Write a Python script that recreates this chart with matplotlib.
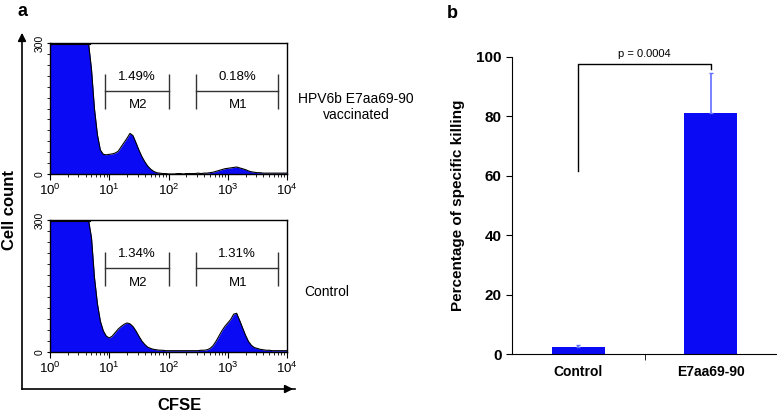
import numpy as np
import matplotlib.pyplot as plt
from matplotlib.ticker import FixedLocator, MultipleLocator

plt.rcParams['font.family'] = ['Liberation Sans', 'DejaVu Sans']
plt.rcParams['mathtext.fontset'] = 'custom'
plt.rcParams['mathtext.rm'] = 'Liberation Sans'
plt.rcParams['mathtext.it'] = 'Liberation Sans'

# CFSE histograms: log10 position of bins and cell counts
log_cfse = np.round(np.arange(0, 4.001, 0.05), 2)
counts_vacc = [300] * 14 + [
    240, 150, 90, 55, 45, 44,
    45, 46, 48, 52, 62, 72, 82, 93, 88, 72, 55, 40, 28, 18, 11, 6, 3, 2, 1, 1,
    0, 0, 0, 1, 1, 0, 1, 1, 1, 1, 2, 1, 2, 2, 3, 4, 6, 8, 10, 12,
    13, 14, 15, 16, 14, 12, 10, 7, 5, 4, 3, 3, 2, 2, 2, 2, 2, 2, 2, 2,
    2]
counts_ctrl = [300] * 14 + [
    260, 170, 110, 70, 48, 36,
    32, 36, 44, 52, 58, 63, 66, 64, 58, 48, 36, 25, 17, 11, 8, 6, 5, 4, 4, 3,
    3, 3, 3, 3, 3, 3, 3, 3, 3, 3, 3, 4, 4, 5, 8, 14, 24, 36, 48, 58,
    66, 74, 86, 88, 72, 55, 38, 24, 15, 10, 8, 6, 5, 4, 4, 3, 3, 3, 3, 3,
    3]
gate_m2 = (10**0.93, 10**2.0)
gate_m1 = (10**2.46, 10**3.85)
pct_vacc = ['1.49%', '0.18%']
pct_ctrl = ['1.34%', '1.31%']
hist_names = ['HPV6b E7aa69-90\nvaccinated', 'Control']

# specific killing bar chart
groups = ['Control', 'E7aa69-90']
killing = [2.5, 81.2]
killing_err = [0.5, 13.3]
p_text = 'p = 0.0004'

blue = '#0a0af5'

fig = plt.figure(figsize=(7.77, 4.17), dpi=100)


def histogram(rect, counts, pcts, name, name_xy):
    ax = fig.add_axes(rect)
    x = 10**log_cfse
    ax.fill_between(x, counts, color=blue, lw=0)
    ax.plot(x, counts, color='black', lw=0.8)
    ax.plot([1, 10**0.66], [299, 299], color='black', lw=3)
    ax.set_xscale('log')
    ax.set_xlim(1, 1e4)
    ax.set_ylim(0, 300)
    ax.set_xticks([1, 10, 100, 1000, 10000])
    ax.set_xticklabels([r'$10^{%d}$' % i for i in range(5)])
    ax.set_yticks([0, 300])
    ax.set_yticklabels(['0', '300'], rotation=90, va='center', fontsize=7.5)
    ax.yaxis.set_minor_locator(MultipleLocator(25))
    ax.tick_params(axis='x', which='major', length=4, labelsize=9.5, pad=2)
    ax.tick_params(axis='x', which='minor', length=2)
    ax.tick_params(axis='y', which='both', length=2, pad=2)
    for spine in ax.spines.values():
        spine.set_linewidth(1.0)
    # gates
    for (x1, x2), pct, lab in zip([gate_m2, gate_m1], pcts, ['M2', 'M1']):
        ax.plot([x1, x2], [190, 190], color='#333333', lw=1)
        ax.vlines([x1, x2], 150, 228, color='#333333', lw=1)
        xm = np.sqrt(x1 * x2)
        ax.text(xm, 222, pct, ha='center', va='center', fontsize=9.5)
        ax.text(xm * 1.05, 157, lab, ha='center', va='center', fontsize=9.5)
    fig.text(name_xy[0] / 777, 1 - name_xy[1] / 417, name, ha='center',
             va='center', fontsize=10)
    return ax


histogram([50 / 777, 1 - 174 / 417, 237 / 777, 131 / 417],
          counts_vacc, pct_vacc, hist_names[0], (356, 107))
histogram([50 / 777, 1 - 352 / 417, 237 / 777, 132 / 417],
          counts_ctrl, pct_ctrl, hist_names[1], (327, 292))

# outer arrows of panel a
fig.add_artist(plt.Line2D([22 / 777, 295 / 777], [1 - 389 / 417] * 2,
                          color='black', lw=1.2))
fig.add_artist(plt.Line2D([22 / 777] * 2, [1 - 389 / 417, 1 - 40 / 417],
                          color='black', lw=1.2))
plt.annotate('', xy=(296, 417 - 389), xytext=(285, 417 - 389),
             xycoords='figure pixels',
             arrowprops=dict(arrowstyle='-|>', color='black', lw=1.2,
                             mutation_scale=12))
plt.annotate('', xy=(22, 417 - 30), xytext=(22, 417 - 42),
             xycoords='figure pixels',
             arrowprops=dict(arrowstyle='-|>', color='black', lw=1.2,
                             mutation_scale=12))
fig.text(10 / 777, 1 - 210 / 417, 'Cell count', rotation=90, ha='center',
         va='center', fontsize=12, fontweight='bold')
fig.text(180 / 777, 1 - 405 / 417, 'CFSE', ha='center', va='center',
         fontsize=12, fontweight='bold')
fig.text(22 / 777, 1 - 12 / 417, 'a', ha='center', va='center',
         fontsize=13, fontweight='bold')
fig.text(452 / 777, 1 - 14 / 417, 'b', ha='center', va='center',
         fontsize=13, fontweight='bold')

# panel b
ax = fig.add_axes([512 / 777, 1 - 354 / 417, 265 / 777, 297 / 417])
xpos = np.arange(len(groups))
ax.bar(xpos, killing, width=0.4, color=blue)
ax.errorbar(xpos, killing, yerr=[[0, 0], killing_err], fmt='none',
            ecolor='#6070ff', elinewidth=1.2, capsize=1.5)
ax.plot([0, 0, 1, 1], [61.5, 97.5, 97.5, 96], color='black', lw=1)
ax.text(0.5, 99.3, p_text, ha='center', va='bottom', fontsize=8)
ax.set_xlim(-0.5, 1.5)
ax.set_ylim(0, 100)
ax.set_yticks(np.arange(0, 101, 20))
ax.set_xticks(xpos)
ax.set_xticklabels(groups, fontweight='bold', fontsize=10)
ax.xaxis.set_minor_locator(FixedLocator([0.5]))
ax.tick_params(axis='x', which='major', length=0, pad=8)
ax.tick_params(axis='x', which='minor', length=4)
ax.tick_params(axis='y', length=4, labelsize=11)
for lab in ax.get_yticklabels():
    lab.set_fontweight('bold')
ax.spines['top'].set_visible(False)
ax.spines['right'].set_visible(False)
ax.set_ylabel('Percentage of specific killing', fontsize=11,
              fontweight='bold', labelpad=8)

fig.savefig('out.png', dpi=100)
